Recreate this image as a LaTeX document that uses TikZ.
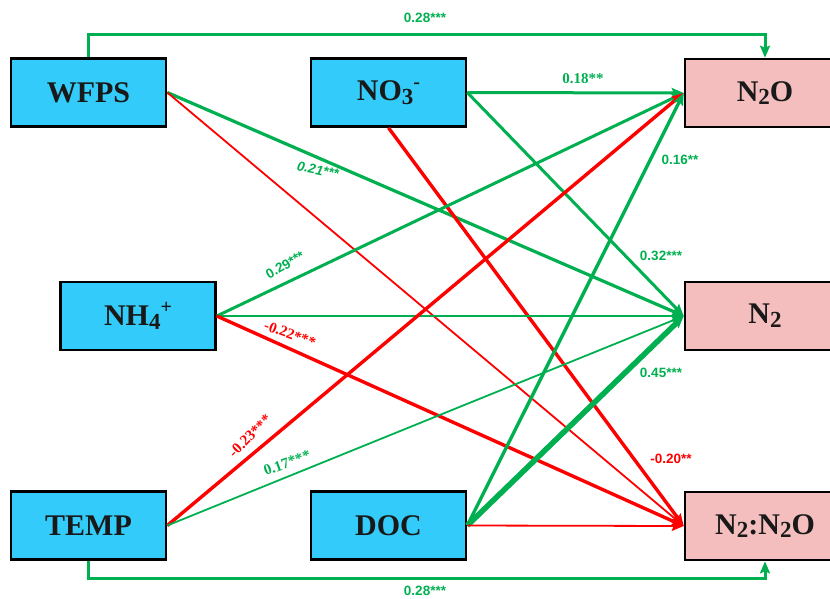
\documentclass[tikz,border=0pt]{standalone}
\usepackage{fontspec}
\setmainfont{Liberation Serif}
\setsansfont{Liberation Sans}
\usetikzlibrary{arrows.meta,calc}
\definecolor{gr}{RGB}{0,176,80}
\definecolor{rd}{RGB}{255,0,0}
\definecolor{cy}{RGB}{51,204,250}
\definecolor{pk}{RGB}{244,190,190}
\newcommand{\mysub}[1]{\raisebox{-0.28ex}{\fontsize{23}{23}\selectfont #1}}
\newcommand{\mysup}[1]{\raisebox{0.85ex}{\fontsize{20}{20}\selectfont #1}}
\begin{document}
\begin{tikzpicture}[x=1pt,y=-1pt,
 box/.style={draw=black,line width=2.6pt,minimum width=155pt,minimum height=68pt,inner sep=0pt,text=black!90,font=\fontsize{30}{32}\selectfont\bfseries},
 src/.style={box,fill=cy},
 tgt/.style={box,fill=pk,minimum width=160pt},
 lnk/.style={-{Stealth[length=12pt,width=10pt,inset=2pt]}},
 g/.style={draw=gr,lnk},
 r/.style={draw=rd,lnk},
 slab/.style={font=\sffamily\bfseries\fontsize{13.5}{14}\selectfont,inner sep=0pt},
 rlab/.style={font=\bfseries\fontsize{15}{16}\selectfont,inner sep=0pt},
]
\useasboundingbox (0,0) rectangle (830,598);
\begin{scope}
\clip (0,0) rectangle (830,598);
\node[src] (wfps) at (88.5,92.5) {WFPS};
\node[src] (no3) at (388.5,92.5) {NO\mysub{3}\mysup{-}};
\node[src] (nh4) at (138,316) {NH\mysub{4}\mysup{+}};
\node[src] (temp) at (88.5,525.5) {TEMP};
\node[src] (doc) at (388.5,525.5) {DOC};
\node[tgt] (n2o) at (765,93) {N\mysub{2}O};
\node[tgt] (n2) at (765,316) {N\mysub{2}};
\node[tgt] (ratio) at (765,526) {N\mysub{2}:N\mysub{2}O};
\end{scope}
\coordinate (topy) at (0,34);
\coordinate (boty) at (0,578);
% direct effects
\draw[g,line width=3pt] (wfps.north) -- (wfps.north |- topy) -| (n2o.north);
\draw[g,line width=3pt] (temp.south) -- (temp.south |- boty) -| (ratio.south);
% WFPS
\draw[g,line width=3.2pt] (wfps.east) -- (n2.west);
\draw[r,line width=1.8pt] (wfps.east) -- (ratio.west);
% NO3
\draw[g,line width=3pt] (no3.east) -- (n2o.west);
\draw[g,line width=3pt] (no3.east) -- (n2.west);
\draw[r,line width=3.4pt] (no3.south) -- (ratio.west);
% NH4
\draw[g,line width=3pt] (nh4.east) -- (n2o.west);
\draw[g,line width=2.4pt] (nh4.east) -- (n2.west);
\draw[r,line width=3.4pt] (nh4.east) -- (ratio.west);
% TEMP
\draw[r,line width=3.4pt] (temp.east) -- (n2o.west);
\draw[g,line width=1.8pt] (temp.east) -- (n2.west);
% DOC
\draw[g,line width=3.4pt] (doc.east) -- (n2o.west);
\draw[g,line width=5.5pt] (doc.east) -- (n2.west);
\draw[r,line width=1.8pt] (doc.east) -- (ratio.west);
% labels
\node[slab,text=gr] (l1) at (425,18) {0.28***};
\node[slab,text=gr] (l2) at (425,591) {0.28***};
\node[rlab,text=gr] (l3) at (583,79) {0.18**};
\node[slab,text=gr] (l4) at (680,160) {0.16**};
\node[slab,text=gr] (l5) at (661,256) {0.32***};
\node[slab,text=gr] (l6) at (661,373) {0.45***};
\node[slab,text=rd] (l7) at (671,459) {-0.20**};
\node[slab,text=gr,font=\sffamily\bfseries\itshape\fontsize{13.5}{14}\selectfont,rotate=-12] (l8) at (318,170) {0.21***};
\node[slab,text=gr,rotate=30] (l9) at (285,265) {0.29***};
\node[rlab,text=rd,rotate=-20] (l10) at (290,334) {-0.22***};
\node[rlab,text=rd,rotate=45] (l11) at (250,436) {-0.23***};
\node[rlab,text=gr,rotate=20] (l12) at (287,463) {0.17***};
\end{tikzpicture}
\end{document}
